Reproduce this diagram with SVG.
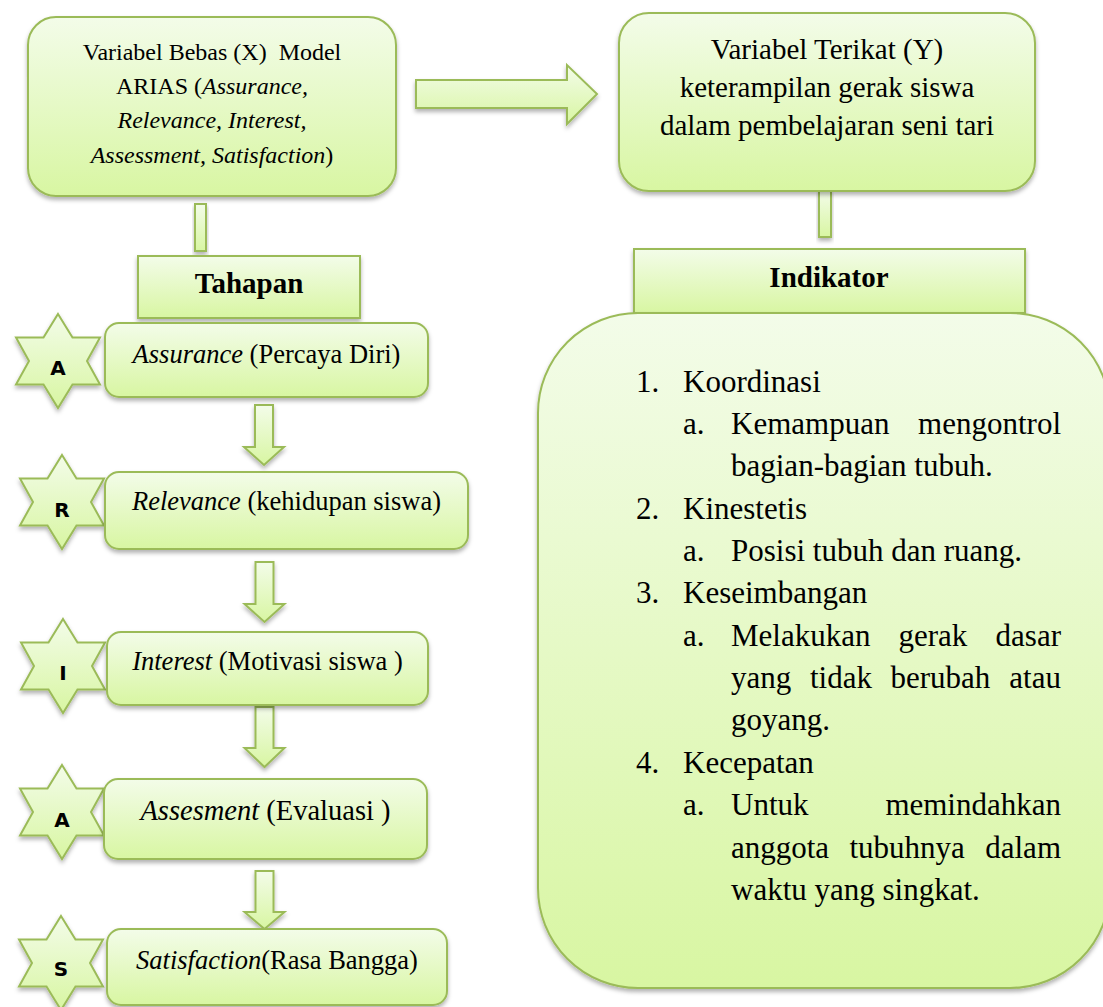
<svg xmlns="http://www.w3.org/2000/svg" xmlns:xlink="http://www.w3.org/1999/xlink" width="1103" height="1007" viewBox="0 0 1103 1007">
<style>
.shape{fill:url(#g);stroke:#9bbb59;stroke-width:2;filter:url(#sh)}
.t{font-family:"Liberation Serif","Times New Roman",serif;fill:#000}
.i{font-style:italic}
.b{font-weight:bold}
.m{text-anchor:middle}
.e{text-anchor:end}
.ltr{font-family:"DejaVu Sans",Verdana,sans-serif;font-weight:bold;font-size:20px;text-anchor:middle;fill:#000}
</style>
<defs>
<linearGradient id="g" x1="0" y1="0" x2="0" y2="1">
<stop offset="0" stop-color="#f3fce9"/>
<stop offset="1" stop-color="#d8f6a2"/>
</linearGradient>
<filter id="sh" x="-20%" y="-20%" width="140%" height="140%">
<feDropShadow dx="0" dy="3" stdDeviation="2" flood-color="#000" flood-opacity="0.3"/>
</filter>
<polygon id="star" points="0,-47 14.5,-23.5 42,-23.5 29,0 42,23.5 14.5,23.5 0,47 -14.5,23.5 -42,23.5 -29,0 -42,-23.5 -14.5,-23.5"/>
</defs>

<g id="connectors">
<path class="shape" d="M416,80 H567 V65 L597,94 L567,124 V108 H416 Z"/>
<rect class="shape" x="195" y="204" width="11" height="47"/>
<rect class="shape" x="819" y="191" width="12" height="46"/>
<path class="shape" d="M255,405 H273 V447 H284 L264,465 L244,447 H255 Z"/>
<path class="shape" d="M255.5,562 H273.5 V604 H284.5 L264.5,622 L244.5,604 H255.5 Z"/>
<path class="shape" d="M255.5,707 H273.5 V748 H284.5 L264.5,767 L244.5,748 H255.5 Z"/>
<path class="shape" d="M255.5,871 H273.5 V912 H284.5 L264.5,929 L244.5,912 H255.5 Z"/>
</g>

<g id="node-x">
<rect class="shape" x="28" y="17" width="368" height="179" rx="28"/>
<text class="t m" font-size="24" x="212" y="60" xml:space="preserve">Variabel Bebas (X)  Model</text>
<text class="t m" font-size="24" x="212" y="94">ARIAS (<tspan class="i">Assurance,</tspan></text>
<text class="t m i" font-size="24" x="212" y="128">Relevance, Interest,</text>
<text class="t m" font-size="24" x="212" y="163"><tspan class="i">Assessment, Satisfaction</tspan>)</text>
</g>

<g id="node-y">
<rect class="shape" x="619" y="13" width="416" height="178" rx="30"/>
<text class="t m" font-size="29" x="827" y="59">Variabel Terikat (Y)</text>
<text class="t m" font-size="29" x="827" y="97">keterampilan gerak siswa</text>
<text class="t m" font-size="29" x="827" y="135">dalam pembelajaran seni tari</text>
</g>

<g id="node-tahapan">
<rect class="shape" x="138" y="256" width="222" height="62"/>
<text class="t m b" font-size="29" x="249" y="293">Tahapan</text>
</g>

<g id="node-indikator">
<rect class="shape" x="634" y="249" width="391" height="64"/>
<text class="t m b" font-size="29" x="829" y="287">Indikator</text>
</g>

<g id="node-indicator-list">
<rect class="shape" x="538" y="313" width="572" height="675" rx="100"/>
<g class="t" font-size="31">
<text x="636" y="392">1.</text><text x="683" y="392">Koordinasi</text>
<text x="683" y="434">a.</text><text x="731" y="434">Kemampuan</text><text class="e" x="1061" y="434">mengontrol</text>
<text x="731" y="476">bagian-bagian tubuh.</text>
<text x="636" y="519">2.</text><text x="683" y="519">Kinestetis</text>
<text x="683" y="561">a.</text><text x="731" y="561">Posisi tubuh dan ruang.</text>
<text x="636" y="603">3.</text><text x="683" y="603">Keseimbangan</text>
<text x="683" y="646">a.</text><text x="731" y="646">Melakukan</text><text x="898.5" y="646">gerak</text><text class="e" x="1061" y="646">dasar</text>
<text x="731" y="688">yang</text><text x="810" y="688">tidak</text><text x="890.5" y="688">berubah</text><text class="e" x="1061" y="688">atau</text>
<text x="731" y="730">goyang.</text>
<text x="636" y="773">4.</text><text x="683" y="773">Kecepatan</text>
<text x="683" y="815">a.</text><text x="731" y="815">Untuk</text><text class="e" x="1061" y="815">memindahkan</text>
<text x="731" y="858">anggota</text><text x="849.5" y="858">tubuhnya</text><text class="e" x="1061" y="858">dalam</text>
<text x="731" y="900">waktu yang singkat.</text>
</g>
</g>

<g id="stage-assurance">
<use href="#star" xlink:href="#star" class="shape" transform="translate(58,361)"/>
<text class="ltr" x="58" y="375">A</text>
<rect class="shape" x="105" y="323" width="323" height="74" rx="14"/>
<text class="t m" font-size="26.5" x="266.5" y="363"><tspan class="i">Assurance</tspan> (Percaya Diri)</text>
</g>

<g id="stage-relevance">
<use href="#star" xlink:href="#star" class="shape" transform="translate(62,502)"/>
<text class="ltr" x="62" y="517">R</text>
<rect class="shape" x="105" y="472" width="363" height="77" rx="14"/>
<text class="t m" font-size="26.5" x="286.5" y="510"><tspan class="i">Relevance</tspan> (kehidupan siswa)</text>
</g>

<g id="stage-interest">
<use href="#star" xlink:href="#star" class="shape" transform="translate(63,666)"/>
<text class="ltr" x="63" y="680">I</text>
<rect class="shape" x="107" y="632" width="321" height="73" rx="14"/>
<text class="t m" font-size="26.5" x="267.5" y="670"><tspan class="i">Interest</tspan> (Motivasi siswa )</text>
</g>

<g id="stage-assessment">
<use href="#star" xlink:href="#star" class="shape" transform="translate(62,812)"/>
<text class="ltr" x="62" y="827">A</text>
<rect class="shape" x="104" y="779" width="323" height="80" rx="14"/>
<text class="t m" font-size="28.5" x="265.5" y="820"><tspan class="i">Assesment</tspan> (Evaluasi )</text>
</g>

<g id="stage-satisfaction">
<use href="#star" xlink:href="#star" class="shape" transform="translate(61,963)"/>
<text class="ltr" x="61" y="976">S</text>
<rect class="shape" x="107" y="929" width="340" height="76" rx="14"/>
<text class="t m" font-size="26.5" x="277" y="969"><tspan class="i">Satisfaction</tspan>(Rasa Bangga)</text>
</g>
</svg>
